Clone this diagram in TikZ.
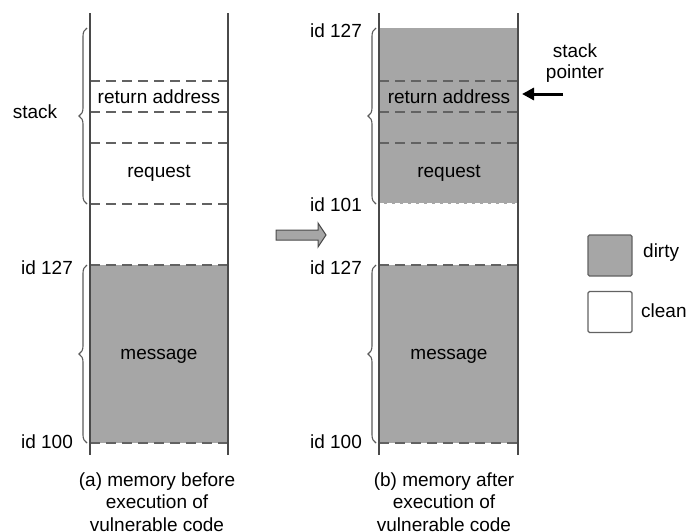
\documentclass[tikz,border=0pt]{standalone}
\usepackage{fontspec}
\setmainfont{Liberation Sans}
\usetikzlibrary{decorations.pathreplacing,arrows.meta}
\definecolor{dirtygray}{HTML}{A6A6A6}
\definecolor{wallgray}{HTML}{4A4A4A}
\definecolor{dashgray}{HTML}{626262}
\definecolor{bracegray}{HTML}{5A5A5A}
\begin{document}
\begin{tikzpicture}[x=1pt,y=-1pt,
  every node/.style={font=\fontsize{19}{22}\selectfont, text=black, inner sep=0pt},
  wall/.style={draw=wallgray, line width=2pt},
  divider/.style={draw=dashgray, line width=2pt, dash pattern=on 10pt off 6pt},
  memfill/.style={fill=dirtygray, draw=none},
  bracket/.style={draw=bracegray, line width=1.1pt,
    decorate, decoration={brace, amplitude=8pt, raise=0pt}},
  label/.style={anchor=center},
  caption/.style={align=center, font=\fontsize{19}{22.5}\selectfont},
  legendbox/.style={draw=dashgray, line width=1.2pt, rounded corners=1.5pt,
    minimum width=44pt, minimum height=41pt}
]
\useasboundingbox (0,0) rectangle (688,531);

% ---------- (a) memory before ----------
\fill[memfill] (90,265) rectangle (228,443);
\coordinate (aTL) at (90,13);  \coordinate (aBL) at (90,455);
\coordinate (aTR) at (228,13); \coordinate (aBR) at (228,455);
\foreach \y/\n in {81/a1,112/a2,143/a3,204/a4,265/a5,443/a6}{
  \coordinate (\n l) at (90,\y); \coordinate (\n r) at (228,\y);
  \draw[divider] (\n l) -- (\n r);
}
\draw[wall] (aTL) -- (aBL);
\draw[wall] (aTR) -- (aBR);

\node[label] (aret) at (159,97) {return address};
\node[label] (areq) at (159,173) {request};
\node[label] (amsg) at (159,356) {message};

\coordinate (abr1) at (87,204); \coordinate (abr2) at (87,28);
\draw[bracket] (abr1) -- (abr2);
\node[label] (astack) at (35,112) {stack};

\coordinate (abr3) at (87,443); \coordinate (abr4) at (87,265);
\draw[bracket] (abr3) -- (abr4);
\node[label] (aid127) at (47,268) {id 127};
\node[label] (aid100) at (47,442) {id 100};

\node[caption] (acap) at (157,502) {(a) memory before\\execution of\\vulnerable code};

% ---------- transition arrow ----------
\filldraw[fill=dirtygray, draw=wallgray, line width=1pt]
  (276,230) -- (318,230) -- (318,223) -- (326,235) -- (318,247) -- (318,240) -- (276,240) -- cycle;

% ---------- (b) memory after ----------
\fill[memfill] (379,28) rectangle (518,204);
\fill[memfill] (379,265) rectangle (518,443);
\foreach \y/\n in {81/b1,112/b2,143/b3,265/b5,443/b6}{
  \coordinate (\n l) at (379,\y); \coordinate (\n r) at (518,\y);
  \draw[divider] (\n l) -- (\n r);
}
\coordinate (b4l) at (379,204); \coordinate (b4r) at (518,204);
\draw[draw=white, line width=1.2pt, dash pattern=on 5pt off 3pt] (b4l) -- (b4r);
\coordinate (bTL) at (379,13);  \coordinate (bBL) at (379,455);
\coordinate (bTR) at (518,13);  \coordinate (bBR) at (518,455);
\draw[wall] (bTL) -- (bBL);
\draw[wall] (bTR) -- (bBR);

\node[label] (bret) at (449,97) {return address};
\node[label] (breq) at (449,173) {request};
\node[label] (bmsg) at (449,356) {message};

\coordinate (bbr1) at (376,204); \coordinate (bbr2) at (376,28);
\draw[bracket] (bbr1) -- (bbr2);
\coordinate (bbr3) at (376,443); \coordinate (bbr4) at (376,265);
\draw[bracket] (bbr3) -- (bbr4);

\node[label] (bid127a) at (336,31) {id 127};
\node[label] (bid101) at (336,205) {id 101};
\node[label] (bid127b) at (336,268) {id 127};
\node[label] (bid100) at (336,442) {id 100};

\node[caption] (bcap) at (444,502) {(b) memory after\\execution of\\vulnerable code};

% ---------- stack pointer ----------
\node[align=center, font=\fontsize{19}{21}\selectfont] (sp) at (575,63) {stack\\pointer};
\coordinate (sptail) at (563,94);
\coordinate (sphead) at (522,94);
\draw[line width=3pt, -{Triangle[length=12pt,width=12pt]}] (sptail) -- (sphead);

% ---------- legend ----------
\node[legendbox, fill=dirtygray] (ldirty) at (610,255.5) {};
\node[anchor=west] (ldirtyt) at (643,253) {dirty};
\node[legendbox, fill=white] (lclean) at (610,312) {};
\node[anchor=west] (lcleant) at (641,311) {clean};
\end{tikzpicture}
\end{document}
